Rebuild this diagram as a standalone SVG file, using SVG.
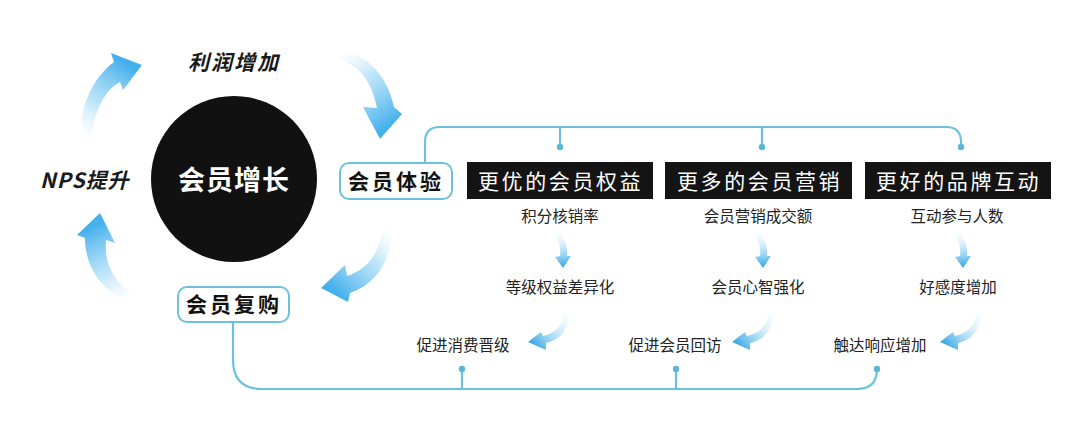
<svg xmlns="http://www.w3.org/2000/svg" width="1080" height="446" viewBox="0 0 1080 446">
  <style>
    .cjk { font-family: "Noto Sans CJK SC", "Noto Sans", sans-serif; }
    .pill { fill: #ffffff; stroke: #6cc2dc; stroke-width: 2; }
    .pilltxt { font-size: 21px; font-weight: 700; fill: #111111; letter-spacing: 3px; }
    .dark { fill: #141414; }
    .darktxt { font-size: 21px; font-weight: 400; fill: #ffffff; letter-spacing: 2.6px; }
    .metric { font-size: 15.5px; font-weight: 400; fill: #222222; text-anchor: middle; }
    .ital { font-size: 21px; font-weight: 700; font-style: italic; fill: #1a1a1a; }
    .line { fill: none; stroke: #6cc2dc; stroke-width: 2.2; stroke-linecap: round; }
    .dot { fill: #5ab6d6; }
  </style>
  <defs>
    <linearGradient id="g1" gradientUnits="userSpaceOnUse" x1="86" y1="138" x2="132" y2="68">
      <stop offset="0" stop-color="#cdeefc" stop-opacity="0"/>
      <stop offset="0.4" stop-color="#a5dbf6" stop-opacity="0.7"/>
      <stop offset="1" stop-color="#45b0ec"/>
    </linearGradient>
    <linearGradient id="g2" gradientUnits="userSpaceOnUse" x1="337" y1="55" x2="385" y2="128">
      <stop offset="0" stop-color="#cdeefc" stop-opacity="0"/>
      <stop offset="0.4" stop-color="#a5dbf6" stop-opacity="0.7"/>
      <stop offset="1" stop-color="#45b0ec"/>
    </linearGradient>
    <linearGradient id="g3" gradientUnits="userSpaceOnUse" x1="387" y1="228" x2="332" y2="288">
      <stop offset="0" stop-color="#cdeefc" stop-opacity="0"/>
      <stop offset="0.4" stop-color="#a5dbf6" stop-opacity="0.7"/>
      <stop offset="1" stop-color="#45b0ec"/>
    </linearGradient>
    <linearGradient id="g4" gradientUnits="userSpaceOnUse" x1="132" y1="298" x2="98" y2="224">
      <stop offset="0" stop-color="#cdeefc" stop-opacity="0"/>
      <stop offset="0.4" stop-color="#a5dbf6" stop-opacity="0.7"/>
      <stop offset="1" stop-color="#45b0ec"/>
    </linearGradient>
    <linearGradient id="gd" gradientUnits="userSpaceOnUse" x1="558" y1="233" x2="563" y2="266">
      <stop offset="0" stop-color="#cdeefc" stop-opacity="0.1"/>
      <stop offset="1" stop-color="#3fabe4"/>
    </linearGradient>
    <linearGradient id="gl" gradientUnits="userSpaceOnUse" x1="567" y1="313" x2="532" y2="342">
      <stop offset="0" stop-color="#cdeefc" stop-opacity="0.1"/>
      <stop offset="1" stop-color="#3fabe4"/>
    </linearGradient>
    <path id="downArrow" d="M557,232 C565,238 568,247 567,256 L571,256 L563,268 L555,257 L560,256 C561,248 559,240 554,234 Z"/>
    <path id="leftArrow" d="M569,313 C569,330 560,340 546,343 L546,350 L528,342 L541,332 L543,336 C556,333 563,325 564,314 Z"/>
  </defs>

  <rect x="0" y="0" width="1080" height="446" fill="#ffffff"/>

  <g id="connectors">
    <path class="line" d="M425,163 L425,142 Q425,127 440,127 L946,127 Q961,127 961,142 L961,147"/>
    <path class="line" d="M560,127 L560,147"/>
    <path class="line" d="M762,127 L762,147"/>
    <circle class="dot" cx="560" cy="147" r="3.2"/>
    <circle class="dot" cx="762" cy="147" r="3.2"/>
    <circle class="dot" cx="961" cy="147" r="3.2"/>

    <path class="line" d="M233,322 L233,360 Q233,389 262,389 L857,389 Q877,389 877,369"/>
    <path class="line" d="M462,369 L462,389"/>
    <path class="line" d="M676,369 L676,389"/>
    <circle class="dot" cx="462" cy="369" r="3.2"/>
    <circle class="dot" cx="676" cy="369" r="3.2"/>
    <circle class="dot" cx="877" cy="369" r="3.2"/>

    <g id="cycle-arrows">
      <path fill="url(#g1)" d="M81,136 C79,110 91,79 114,62 L111,53 L142,65 L123,90 L120,82 C106,89 95,108 91,138 Z"/>
      <path fill="url(#g2)" d="M337,51 C361,51 386,70 394,107 L402,114 L380,139 L363,107 L377,108 C372,82 360,65 337,59 Z"/>
      <path fill="url(#g3)" d="M391,228 C393,256 379,283 350,293 L348,302 L321,288 L345,265 L347,276 C366,270 379,255 383,228 Z"/>
      <path fill="url(#g4)" d="M130,301 C103,293 85,268 85,238 L77,235 L100,213 L115,243 L106,240 C104,262 113,284 136,295 Z"/>
    </g>
    <g id="step-arrows">
      <use href="#downArrow" fill="url(#gd)"/>
      <use href="#downArrow" fill="url(#gd)" transform="translate(200,0)"/>
      <use href="#downArrow" fill="url(#gd)" transform="translate(400,0)"/>
      <use href="#leftArrow" fill="url(#gl)"/>
      <use href="#leftArrow" fill="url(#gl)" transform="translate(204,0)"/>
      <use href="#leftArrow" fill="url(#gl)" transform="translate(412,0)"/>
    </g>
  </g>

  <g id="node-core">
    <circle cx="234" cy="179" r="83" fill="#111111"/>
    <text class="cjk" x="234" y="190" text-anchor="middle" font-size="27" font-weight="700" fill="#ffffff" letter-spacing="1">会员增长</text>
  </g>

  <g id="node-profit">
    <text class="cjk ital" x="188" y="70" letter-spacing="2">利润增加</text>
  </g>

  <g id="node-nps">
    <text class="cjk ital" x="40" y="188" letter-spacing="1">NPS提升</text>
  </g>

  <g id="node-experience">
    <rect class="pill" x="340" y="163" width="112" height="36" rx="9"/>
    <text class="cjk pilltxt" x="348" y="189">会员体验</text>
  </g>

  <g id="node-repurchase">
    <rect class="pill" x="178" y="287" width="111" height="35" rx="9"/>
    <text class="cjk pilltxt" x="186" y="312">会员复购</text>
  </g>

  <g id="node-benefits">
    <rect class="dark" x="467" y="162" width="186" height="37"/>
    <text class="cjk darktxt" x="478" y="189">更优的会员权益</text>
    <text class="cjk metric" x="560" y="222">积分核销率</text>
    <text class="cjk metric" x="560" y="293">等级权益差异化</text>
    <text class="cjk metric" x="463" y="351">促进消费晋级</text>
  </g>

  <g id="node-marketing">
    <rect class="dark" x="665" y="162" width="187" height="37"/>
    <text class="cjk darktxt" x="677" y="189">更多的会员营销</text>
    <text class="cjk metric" x="758" y="222">会员营销成交额</text>
    <text class="cjk metric" x="758" y="293">会员心智强化</text>
    <text class="cjk metric" x="675" y="351">促进会员回访</text>
  </g>

  <g id="node-interaction">
    <rect class="dark" x="865" y="162" width="186" height="37"/>
    <text class="cjk darktxt" x="876" y="189">更好的品牌互动</text>
    <text class="cjk metric" x="957" y="222">互动参与人数</text>
    <text class="cjk metric" x="958" y="293">好感度增加</text>
    <text class="cjk metric" x="880" y="351">触达响应增加</text>
  </g>
</svg>
